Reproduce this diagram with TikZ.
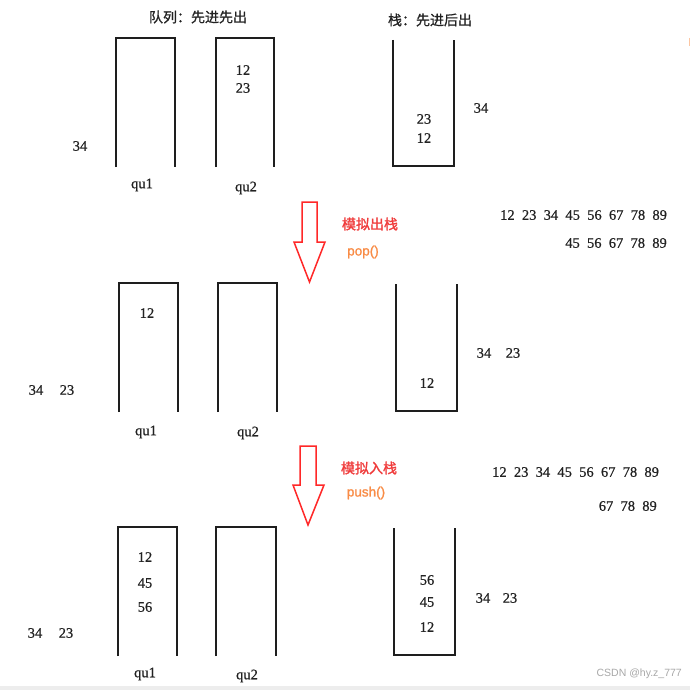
\documentclass[tikz,border=0pt]{standalone}
\usepackage{fontspec}
\setmainfont{Liberation Serif}
\newfontfamily\cjk[FakeBold=1.0]{Noto Sans CJK SC}
\newfontfamily\cjkb[FakeBold=1.6]{Noto Sans CJK SC}
\newfontfamily\sansf{Liberation Sans}
\newfontfamily\sansb[FakeBold=1.2]{Liberation Sans}
\newfontfamily\numf[FakeBold=0.6]{Liberation Serif}
\definecolor{boxc}{HTML}{1E1E1E}
\definecolor{txtc}{HTML}{222222}
\definecolor{redc}{HTML}{F03C3C}
\definecolor{arrc}{HTML}{FF2828}
\definecolor{orc}{HTML}{F98C46}
\definecolor{wmc}{HTML}{A8A8A8}
\definecolor{stripc}{HTML}{EDEDED}
\begin{document}
\begin{tikzpicture}[x=1pt,y=-1pt,
  num/.style={inner sep=0pt, text=txtc, font=\numf\fontsize{14.5}{17}\selectfont},
  lab/.style={inner sep=0pt, text=txtc, font=\numf\fontsize{14.5}{17}\selectfont},
  ttl/.style={inner sep=0pt, text=txtc, font=\cjk\fontsize{14}{16}\selectfont},
  redt/.style={inner sep=0pt, text=redc, font=\cjkb\fontsize{14}{16}\selectfont},
  ort/.style={inner sep=0pt, text=orc, font=\sansb\fontsize{13.5}{15}\selectfont},
  boxline/.style={draw=boxc, line width=1.8pt},
  blockarrow/.style={draw=arrc, line width=1.5pt, line join=miter},
  seq/.style={inner sep=0pt, text=txtc, font=\numf\fontsize{14.5}{17}\selectfont}
]
\useasboundingbox (0,0) rectangle (690,690);
\fill[white] (0,0) rectangle (690,690);
\fill[stripc] (0,686) rectangle (690,690);
\draw[orc!50, line width=0.8pt] (689,38) -- (689,46);

% ---------- Row 1 ----------
\node[ttl] (t1) at (198,17) {队列：先进先出};
\node[ttl] (t2) at (430,20) {栈：先进后出};
\draw[boxline] (116,167) -- (116,38) -- (175,38) -- (175,167);
\draw[boxline] (216,167) -- (216,38) -- (274,38) -- (274,167);
\draw[boxline] (393,40) -- (393,166) -- (454,166) -- (454,40);
\node[num] (r1a) at (243,70) {12};
\node[num] (r1b) at (243,88) {23};
\node[num] (r1c) at (424,119) {23};
\node[num] (r1d) at (424,138) {12};
\node[num] (r1e) at (481,108) {34};
\node[num] (r1f) at (80,146) {34};
\node[lab] (r1q1) at (142,185) {qu1};
\node[lab] (r1q2) at (246,188) {qu2};

% ---------- Arrow 1 ----------
\draw[blockarrow] (302,202) -- (317,202) -- (317,242) -- (325,242) -- (309.5,282) -- (294,242) -- (302,242) -- cycle;
\node[redt] (a1t) at (370,224) {模拟出栈};
\node[ort] (a1p) at (363,252) {pop()};
\node[seq, anchor=west] (s1) at (500,215) {12\hspace{0.5em}23\hspace{0.5em}34\hspace{0.5em}45\hspace{0.5em}56\hspace{0.5em}67\hspace{0.5em}78\hspace{0.5em}89};
\node[seq, anchor=east] (s2) at (667,243) {45\hspace{0.5em}56\hspace{0.5em}67\hspace{0.5em}78\hspace{0.5em}89};

% ---------- Row 2 ----------
\draw[boxline] (119,412) -- (119,283) -- (178,283) -- (178,412);
\draw[boxline] (218,412) -- (218,283) -- (277,283) -- (277,412);
\draw[boxline] (396,284) -- (396,411) -- (457,411) -- (457,284);
\node[num] (r2a) at (147,313) {12};
\node[num] (r2b) at (427,383) {12};
\node[num] (r2c) at (484,353) {34};
\node[num] (r2d) at (513,353) {23};
\node[num] (r2e) at (36,390) {34};
\node[num] (r2f) at (67,390) {23};
\node[lab] (r2q1) at (146,432) {qu1};
\node[lab] (r2q2) at (248,433) {qu2};

% ---------- Arrow 2 ----------
\draw[blockarrow] (300,446) -- (316,446) -- (316,485) -- (324,485) -- (308,525) -- (293,485) -- (300,485) -- cycle;
\node[redt] (a2t) at (369,468) {模拟入栈};
\node[ort] (a2p) at (366,493) {push()};
\node[seq, anchor=west] (s3) at (492,472) {12\hspace{0.5em}23\hspace{0.5em}34\hspace{0.5em}45\hspace{0.5em}56\hspace{0.5em}67\hspace{0.5em}78\hspace{0.5em}89};
\node[seq, anchor=east] (s4) at (657,506) {67\hspace{0.5em}78\hspace{0.5em}89};

% ---------- Row 3 ----------
\draw[boxline] (118,656) -- (118,527) -- (177,527) -- (177,656);
\draw[boxline] (216,656) -- (216,527) -- (276,527) -- (276,656);
\draw[boxline] (394,528) -- (394,655) -- (455,655) -- (455,528);
\node[num] (r3a) at (145,557) {12};
\node[num] (r3b) at (145,583) {45};
\node[num] (r3c) at (145,607) {56};
\node[num] (r3d) at (427,580) {56};
\node[num] (r3e) at (427,602) {45};
\node[num] (r3f) at (427,627) {12};
\node[num] (r3g) at (483,598) {34};
\node[num] (r3h) at (510,598) {23};
\node[num] (r3i) at (35,633) {34};
\node[num] (r3j) at (66,633) {23};
\node[lab] (r3q1) at (145,674) {qu1};
\node[lab] (r3q2) at (247,676) {qu2};

\node[inner sep=0pt, anchor=east, text=wmc, font=\sansf\fontsize{10.5}{12}\selectfont] (wm) at (682,674) {CSDN @hy.z\_777};
\end{tikzpicture}
\end{document}
